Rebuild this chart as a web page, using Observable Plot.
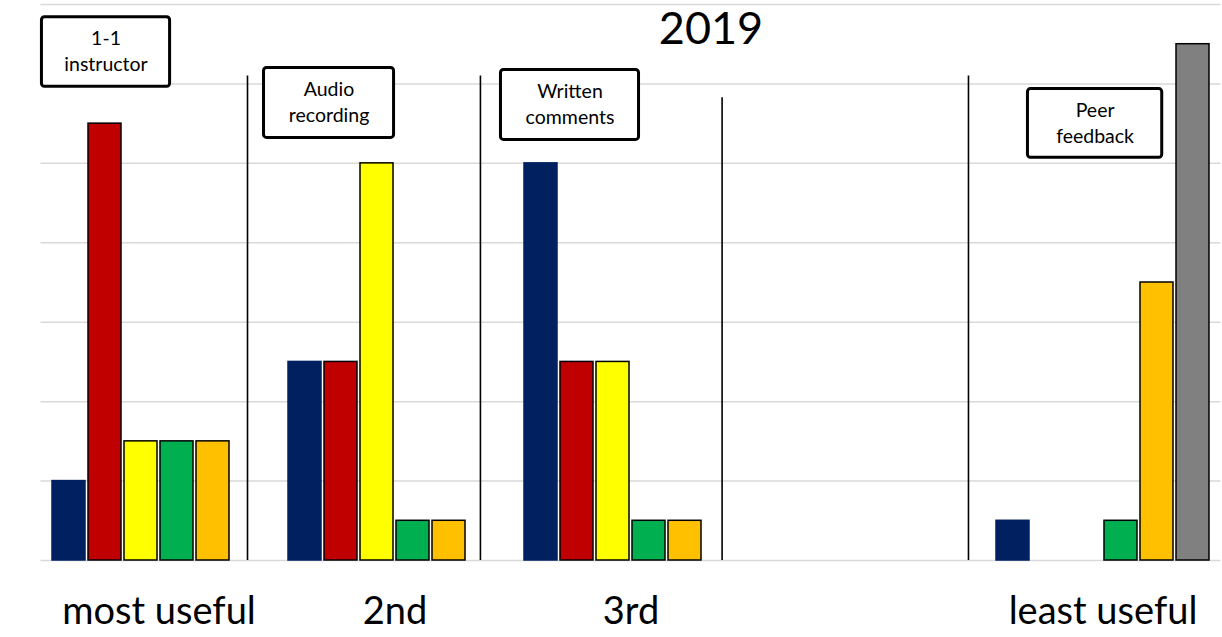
<!DOCTYPE html>
<html>
<head>
<meta charset="utf-8">
<script src="https://cdn.jsdelivr.net/npm/d3@7"></script>
<script src="https://cdn.jsdelivr.net/npm/@observablehq/plot@0.6"></script>
<style>
  html, body { margin: 0; padding: 0; background: #fff; }
  #chart svg { display: block; }
</style>
</head>
<body>
<div id="chart"></div>
<script>
// ---- data ----
const groups = ["most useful", "2nd", "3rd", "4th", "least useful"];
const tickLabels = ["most useful", "2nd", "3rd", "", "least useful"];
const seriesNames = ["Navy", "Red", "Yellow", "Green", "Orange", "Gray"];
const navyValues   = [2, 5, 10, 0, 1];
const redValues    = [11, 5, 5, 0, 0];
const yellowValues = [3, 10, 5, 0, 0];
const greenValues  = [3, 1, 1, 0, 1];
const orangeValues = [3, 1, 1, 0, 7];
const grayValues   = [0, 0, 0, 0, 13];
const boxLabels = ["1-1\ninstructor", "Audio\nrecording", "Written\ncomments", "Peer\nfeedback"];
const titleText = "2019";

// ---- styles / layout ----
const colors = ["#002060", "#C00000", "#FFFF00", "#00B050", "#FFC000", "#808080"];
const FONT = "Lato, 'Open Sans', sans-serif";
const groupPx = 236;                 // pixels per group unit
const slot = 36 / groupPx;           // slot pitch in group units
const barW = 33 / groupPx;           // bar width in group units
const start = -106.5 / groupPx;      // first bar offset from group centre

const allValues = [navyValues, redValues, yellowValues, greenValues, orangeValues, grayValues];
const rows = [];
allValues.forEach((vals, si) => {
  vals.forEach((v, gi) => {
    if (v > 0) {
      const x1 = gi + start + si * slot;
      rows.push({series: seriesNames[si], group: groups[gi], si, gi, value: v, x1, x2: x1 + barW});
    }
  });
});

// annotation layout (group units / value units)
const separators = [
  {x: 0.375, top: 12.2},
  {x: 1.362, top: 12.2},
  {x: 2.386, top: 11.65},
  {x: 3.430, top: 12.2}
];
const boxes = boxLabels.map((label, i) => ({label, ...[
  {x1: -0.496, x2: 0.047, y1: 11.93, y2: 13.68},
  {x1: 0.445, x2: 0.996, y1: 10.64, y2: 12.40},
  {x1: 1.449, x2: 2.034, y1: 10.59, y2: 12.35},
  {x1: 3.682, x2: 4.251, y1: 10.14, y2: 11.87}
][i]}));

const chart = Plot.plot({
  width: 1222,
  height: 637,
  marginLeft: 40.5,
  marginRight: 1.5,
  marginTop: 4,
  marginBottom: 77,
  style: {fontFamily: FONT, background: "white"},
  x: {domain: [-0.5, 4.5], axis: null},
  y: {domain: [0, 14], axis: null},
  marks: [
    Plot.ruleY(d3.range(0, 15, 2), {stroke: "#d9d9d9", strokeWidth: 1.5}),
    Plot.rect(rows, {
      x1: "x1", x2: "x2", y1: 0, y2: "value",
      fill: d => colors[d.si],
      stroke: d => d.si === 0 ? colors[0] : "black",
      strokeWidth: 1.5,
      title: d => `${d.series} – ${d.group}: ${d.value}`
    }),
    Plot.ruleX(separators, {x: "x", y1: 0, y2: "top", stroke: "black", strokeWidth: 1.6}),
    Plot.rect(boxes, {x1: "x1", x2: "x2", y1: "y1", y2: "y2", fill: "white", stroke: "black", strokeWidth: 3, rx: 3}),
    Plot.text(boxes, {
      x: d => (d.x1 + d.x2) / 2, y: d => (d.y1 + d.y2) / 2,
      text: "label", fontSize: 19.5, lineHeight: 1.33, dy: -2, fill: "black"
    }),
    Plot.text([titleText], {frameAnchor: "top", dx: 80, dy: 8, lineAnchor: "top", fontSize: 45, fill: "black"}),
    Plot.axisX({
      ticks: d3.range(groups.length),
      tickFormat: i => tickLabels[i],
      tickSize: 0,
      tickPadding: 37,
      fontSize: 38,
      fill: "black",
      color: "black"
    })
  ]
});
document.getElementById("chart").append(chart);
</script>
</body>
</html>
